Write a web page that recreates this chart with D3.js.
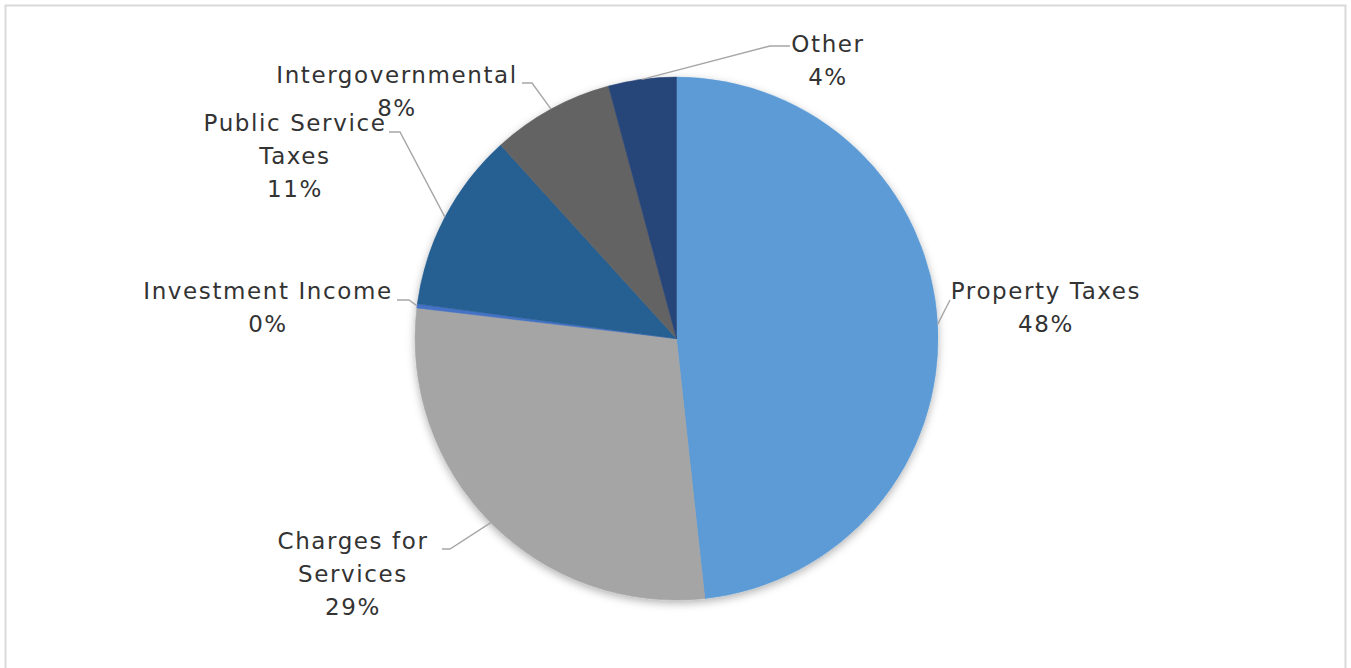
<!DOCTYPE html>
<html>
  <head>
    <meta charset="utf-8">
    <script src="https://cdn.jsdelivr.net/npm/d3@7"></script>
    <style>
      body { margin: 0; background: #ffffff; }
      text { font-family: "DejaVu Sans", sans-serif; fill: #333333; }
    </style>
  </head>
  <body>
    <script>
      // slice names (clockwise from 12 o'clock), shares in percent
      var categories = ["Property Taxes", "Charges for Services", "Investment Income",
                        "Public Service Taxes", "Intergovernmental", "Other"];
      var values = [48.27, 28.6, 0.25, 11.14, 7.55, 4.19];
      var colors = ["#5b9bd5", "#a5a5a5", "#4472c4", "#255e91", "#636363", "#264478"];
      // label text lines, as Excel wraps them
      var labelLines = [["Property Taxes"], ["Charges for", "Services"], ["Investment Income"],
                        ["Public Service", "Taxes"], ["Intergovernmental"], ["Other"]];

      // label anchors: centre x, first baseline, and the elbow of the leader line
      var labelLayout = [
        {x: 1046, y: 299, line: [[950, 300]]},
        {x: 353, y: 549, line: [[442, 549], [450, 549]]},
        {x: 268, y: 299, line: [[397, 300], [409, 300]]},
        {x: 295, y: 131, line: [[389, 132], [400, 132]]},
        {x: 397, y: 83, line: [[522, 83], [532, 83]]},
        {x: 828, y: 52, line: [[790, 46], [770, 46]]}
      ];

      var width = 1351, height = 668;
      var cx = 676.5, cy = 338.6, radius = 261.5;
      var lineHeight = 33;

      var svg = d3.select("body")
                  .append("svg")
                  .attr("width", width)
                  .attr("height", height);

      // chart area border
      svg.append("rect")
         .attr("x", 5.5).attr("y", 5.5)
         .attr("width", 1340).attr("height", 700)
         .attr("fill", "#ffffff")
         .attr("stroke", "#d9d9d9")
         .attr("stroke-width", 2);

      // soft shadow under the pie
      var filter = svg.append("defs").append("filter")
                      .attr("id", "shadow")
                      .attr("x", "-10%").attr("y", "-10%")
                      .attr("width", "120%").attr("height", "120%");
      filter.append("feDropShadow")
            .attr("dx", 0).attr("dy", 3)
            .attr("stdDeviation", 4)
            .attr("flood-color", "#000000")
            .attr("flood-opacity", 0.3);

      var data = categories.map(function(c, i) {
        return {name: c, value: values[i], color: colors[i], lines: labelLines[i], layout: labelLayout[i]};
      });

      var pie = d3.pie()
                  .sort(null)
                  .value(function(d) { return d.value; });
      var arcs = pie(data);

      var arc = d3.arc().innerRadius(0).outerRadius(radius);

      var g = svg.append("g")
                 .attr("transform", "translate(" + cx + "," + cy + ")");

      g.append("g")
       .attr("filter", "url(#shadow)")
       .selectAll("path")
       .data(arcs)
       .enter()
       .append("path")
       .attr("d", arc)
       .attr("fill", function(d) { return d.data.color; })
       .attr("stroke", function(d) { return d.data.color; })
       .attr("stroke-width", 0.5);

      // leader lines end at the middle of each slice's rim
      var rimPoint = function(d) {
        var a = (d.startAngle + d.endAngle) / 2;
        return [cx + radius * Math.sin(a), cy - radius * Math.cos(a)];
      };

      svg.selectAll(".leader")
         .data(arcs)
         .enter()
         .append("polyline")
         .attr("class", "leader")
         .attr("points", function(d) {
           return d.data.layout.line.concat([rimPoint(d)]).join(" ");
         })
         .attr("fill", "none")
         .attr("stroke", "#a6a6a6")
         .attr("stroke-width", 1.4);

      var labels = svg.selectAll(".label")
                      .data(arcs)
                      .enter()
                      .append("text")
                      .attr("class", "label")
                      .attr("text-anchor", "middle")
                      .style("font-size", "23px")
                      .style("letter-spacing", "1.6px");

      labels.each(function(d) {
        var t = d3.select(this);
        var rows = d.data.lines.concat([Math.round(d.data.value) + "%"]);
        rows.forEach(function(r, i) {
          t.append("tspan")
           .attr("x", d.data.layout.x)
           .attr("y", d.data.layout.y + i * lineHeight)
           .text(r);
        });
      });
    </script>
  </body>
</html>
